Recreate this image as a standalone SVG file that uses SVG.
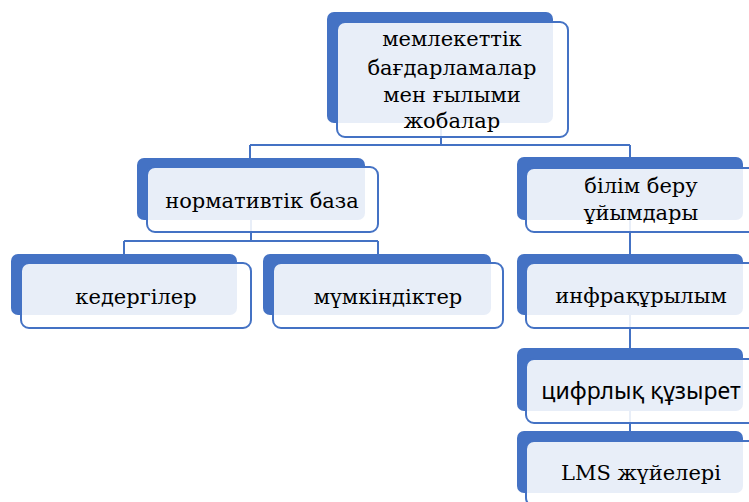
<svg xmlns="http://www.w3.org/2000/svg" width="749" height="502" viewBox="0 0 749 502">
<style>
.back{fill:#4472C4}
.front{fill:#fff;fill-opacity:0.88;stroke:#4472C4;stroke-width:2}
.conn{fill:none;stroke:#4472C4;stroke-width:2}
text.t{font-family:'DejaVu Serif','Liberation Serif',serif;font-size:21px;fill:#000;text-anchor:middle}
text.s{font-family:'Noto Sans','DejaVu Sans',sans-serif;font-size:23px;fill:#000;text-anchor:middle}
</style>
<rect width="749" height="502" fill="#fff"/>
<g id="connectors" class="conn">
<path d="M441,123V145M250,145H630M250,145V158M630,145V157"/>
<path d="M251,220V241M124,241H378M124,241V254M378,241V254"/>
<path d="M630,220V254M630,315V348M630,411V431"/>
</g>
<g id="n-top">
<rect class="back" x="327" y="12" width="226" height="111" rx="7"/>
<rect class="front" x="337" y="22" width="231" height="115" rx="8"/>
<text class="t" x="452" y="46">мемлекеттік</text>
<text class="t" x="452" y="75">бағдарламалар</text>
<text class="t" x="452" y="102">мен ғылыми</text>
<text class="t" x="452" y="128">жобалар</text>
</g>
<g id="n-norm">
<rect class="back" x="137" y="158" width="228" height="62" rx="7"/>
<rect class="front" x="147" y="167" width="231" height="65" rx="8"/>
<text class="t" x="262" y="208">нормативтік база</text>
</g>
<g id="n-bilim">
<rect class="back" x="517" y="157" width="226" height="63" rx="7"/>
<rect class="front" x="526" y="168" width="231" height="64" rx="8"/>
<text class="t" x="641" y="193">білім беру</text>
<text class="t" x="641" y="220">ұйымдары</text>
</g>
<g id="n-kedergi">
<rect class="back" x="11" y="254" width="226" height="61" rx="7"/>
<rect class="front" x="21" y="263" width="230" height="65" rx="8"/>
<text class="t" x="136" y="304">кедергілер</text>
</g>
<g id="n-mumkin">
<rect class="back" x="263" y="254" width="228" height="61" rx="7"/>
<rect class="front" x="273" y="263" width="230" height="65" rx="8"/>
<text class="t" x="388" y="304">мүмкіндіктер</text>
</g>
<g id="n-infra">
<rect class="back" x="517" y="254" width="226" height="61" rx="7"/>
<rect class="front" x="526" y="263" width="231" height="65" rx="8"/>
<text class="t" x="641" y="303">инфрақұрылым</text>
</g>
<g id="n-cifr">
<rect class="back" x="517" y="348" width="226" height="63" rx="7"/>
<rect class="front" x="526" y="359" width="231" height="64" rx="8"/>
<text class="s" x="641" y="399">цифрлық құзырет</text>
</g>
<g id="n-lms">
<rect class="back" x="517" y="431" width="226" height="62" rx="7"/>
<rect class="front" x="526" y="441" width="231" height="65" rx="8"/>
<text class="t" x="641" y="480">LMS жүйелері</text>
</g>
</svg>
